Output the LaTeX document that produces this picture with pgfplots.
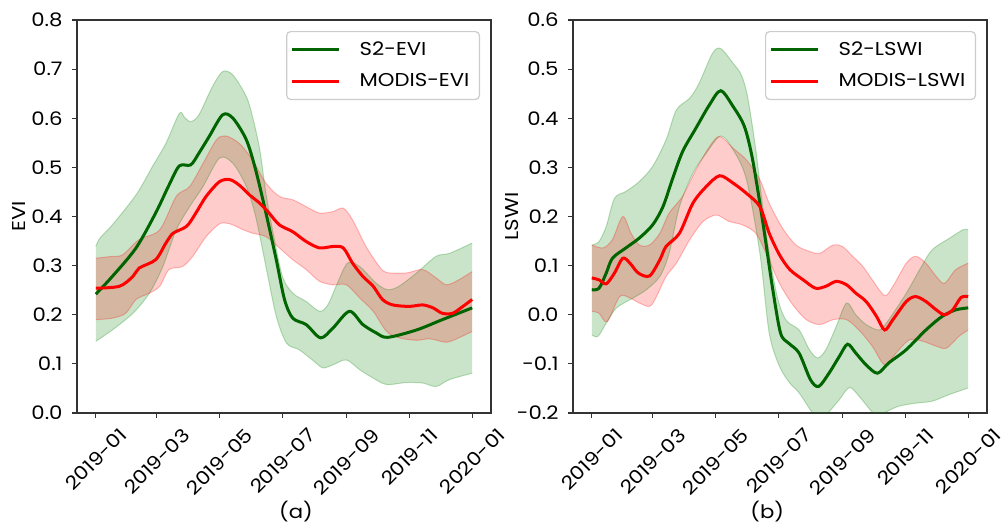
\documentclass[border=0pt]{standalone}
\usepackage{fontspec}
\setmainfont{Poppins}[FakeStretch=1.14]
\usepackage{pgfplots}
\pgfplotsset{compat=1.18}
\usepgfplotslibrary{fillbetween}
\definecolor{mgreen}{RGB}{0,128,0}
\definecolor{dgreen}{RGB}{0,100,0}
\definecolor{mred}{RGB}{255,0,0}
\definecolor{framegray}{RGB}{51,51,51}
\newcommand{\tf}{\fontsize{9.3}{11}\selectfont}
\pgfplotsset{
 myax/.style={
   scale only axis, width=207pt, height=196.5pt,
   xmin=-18.25, xmax=383.25,
   xtick={0,59,120,181,243,304,365},
   xticklabels={\rotatebox{45}{2019-01},\rotatebox{45}{2019-03},\rotatebox{45}{2019-05},\rotatebox{45}{2019-07},\rotatebox{45}{2019-09},\rotatebox{45}{2019-11},\rotatebox{45}{2020-01}},
   xticklabel style={anchor=north, yshift=-1pt},
   tick align=outside, major tick length=2.5pt,
   xtick pos=bottom, ytick pos=left,
   axis line style={framegray, line width=0.6pt},
   tick style={framegray, line width=0.6pt},
   ticklabel style={font=\tf},
   label style={font=\tf},
   /pgf/number format/assume math mode=true,
   yticklabel style={/pgf/number format/fixed, /pgf/number format/fixed zerofill, /pgf/number format/precision=1, xshift=-1.2pt},
   legend style={at={(1,1)}, anchor=north east, xshift=-5.5pt, yshift=-5.5pt, draw=black!20, line width=0.6pt, rounded corners=2pt, font=\tf, row sep=3.5pt, inner xsep=2pt, inner ysep=3pt, nodes={inner xsep=3pt}},
   legend image code/.code={\draw[##1] (0pt,0pt) -- (23.5pt,0pt); \path (30pt,0pt);},
   legend cell align=left,
   band/.style={draw=##1, draw opacity=0.25, line width=0.5pt, smooth, tension=0.5, forget plot},
   mean/.style={draw=##1, line width=1.5pt, smooth, tension=0.5},
 }
}
\begin{document}
\begin{tikzpicture}
% ---------------- (a) EVI ----------------
\begin{axis}[myax, ymin=0, ymax=0.8, ytick={0,0.1,...,0.8},
  ylabel={EVI}, ylabel style={at={(axis description cs:-0.14,0.5)}, anchor=center},
  xlabel={(a)}, xlabel style={at={(axis description cs:0.529,-0.252)}, anchor=center}]
\addplot[band=mgreen, name path=s2u] coordinates {(0,0.339)(4,0.356)(16,0.383)(39,0.444)(55,0.502)(68,0.549)(81,0.610)(86,0.602)(92,0.593)(100,0.607)(113,0.664)(123,0.695)(133,0.688)(146,0.644)(152,0.603)(159,0.536)(165,0.447)(172,0.366)(181,0.278)(191,0.244)(204,0.227)(217,0.207)(225,0.220)(233,0.258)(244,0.305)(256,0.298)(272,0.264)(283,0.251)(294,0.258)(311,0.285)(330,0.319)(343,0.325)(365,0.346)};
\addplot[band=mgreen, name path=s2l] coordinates {(0,0.146)(16,0.169)(36,0.203)(52,0.244)(65,0.298)(78,0.373)(91,0.420)(104,0.461)(120,0.519)(133,0.508)(146,0.461)(155,0.400)(165,0.298)(175,0.197)(185,0.142)(197,0.129)(210,0.108)(220,0.092)(230,0.098)(243,0.108)(256,0.088)(269,0.071)(282,0.058)(301,0.062)(317,0.061)(330,0.054)(343,0.068)(365,0.081)};
\addplot[fill=mgreen, fill opacity=0.21, draw=none, forget plot] fill between[of=s2u and s2l];
\addplot[band=mred, name path=mou] coordinates {(0,0.315)(16,0.319)(26,0.322)(42,0.353)(62,0.373)(78,0.441)(91,0.461)(104,0.508)(117,0.556)(126,0.564)(139,0.549)(152,0.515)(165,0.468)(178,0.441)(191,0.434)(204,0.420)(217,0.407)(230,0.410)(240,0.417)(249,0.393)(262,0.339)(275,0.298)(282,0.286)(301,0.285)(317,0.292)(330,0.275)(340,0.261)(352,0.271)(365,0.288)};
\addplot[band=mred, name path=mol] coordinates {(0,0.190)(16,0.193)(29,0.203)(39,0.231)(52,0.244)(62,0.258)(71,0.292)(84,0.298)(94,0.319)(107,0.359)(120,0.385)(130,0.385)(143,0.373)(152,0.366)(165,0.359)(178,0.336)(191,0.312)(204,0.292)(217,0.268)(230,0.261)(243,0.261)(256,0.234)(269,0.207)(282,0.166)(294,0.153)(311,0.148)(324,0.151)(340,0.144)(352,0.153)(365,0.166)};
\addplot[fill=mred, fill opacity=0.2, draw=none, forget plot] fill between[of=mou and mol];
\addplot[mean=dgreen] coordinates {(0,0.242)(16,0.278)(39,0.336)(58,0.407)(71,0.464)(81,0.503)(92,0.505)(100,0.529)(110,0.563)(123,0.607)(133,0.600)(146,0.556)(155,0.495)(165,0.407)(175,0.312)(183,0.231)(191,0.193)(204,0.180)(218,0.153)(230,0.173)(246,0.207)(259,0.180)(272,0.163)(283,0.154)(311,0.169)(336,0.190)(365,0.214)};
\addlegendentry{S2-EVI}
\addplot[mean=mred] coordinates {(0,0.254)(23,0.258)(36,0.278)(42,0.295)(58,0.312)(68,0.346)(75,0.366)(88,0.380)(97,0.407)(107,0.441)(120,0.471)(130,0.475)(139,0.464)(149,0.444)(159,0.427)(168,0.407)(178,0.383)(191,0.369)(204,0.349)(217,0.336)(230,0.339)(240,0.336)(249,0.305)(259,0.278)(269,0.258)(278,0.231)(288,0.220)(304,0.217)(317,0.220)(327,0.214)(336,0.203)(346,0.203)(356,0.217)(365,0.231)};
\addlegendentry{MODIS-EVI}
\end{axis}
% ---------------- (b) LSWI ----------------
\begin{axis}[myax, at={(248pt,0pt)}, ymin=-0.2, ymax=0.6, ytick={-0.2,-0.1,...,0.6},
  ylabel={LSWI}, ylabel style={at={(axis description cs:-0.147,0.5)}, anchor=center},
  xlabel={(b)}, xlabel style={at={(axis description cs:0.469,-0.252)}, anchor=center}]
\addplot[band=mgreen, name path=s2u] coordinates {(0,0.142)(7,0.149)(14,0.180)(22,0.237)(33,0.251)(46,0.271)(59,0.302)(72,0.356)(82,0.417)(95,0.441)(104,0.471)(117,0.532)(125,0.542)(137,0.512)(145,0.488)(151,0.444)(159,0.336)(169,0.166)(179,0.044)(188,-0.010)(201,-0.031)(211,-0.071)(219,-0.088)(227,-0.071)(237,-0.024)(247,0.024)(256,0.000)(266,-0.020)(279,-0.031)(288,-0.010)(305,0.044)(318,0.092)(330,0.132)(347,0.156)(360,0.173)(365,0.173)};
\addplot[band=mgreen, name path=s2l] coordinates {(0,-0.041)(6,-0.044)(14,-0.017)(24,0.014)(40,0.034)(53,0.051)(66,0.078)(75,0.125)(85,0.220)(98,0.288)(111,0.329)(125,0.364)(137,0.336)(150,0.275)(163,0.125)(172,-0.037)(182,-0.105)(192,-0.139)(201,-0.159)(214,-0.200)(221,-0.215)(229,-0.200)(240,-0.173)(250,-0.148)(260,-0.168)(272,-0.198)(279,-0.205)(286,-0.197)(298,-0.186)(314,-0.180)(330,-0.176)(346,-0.163)(365,-0.149)};
\addplot[fill=mgreen, fill opacity=0.21, draw=none, forget plot] fill between[of=s2u and s2l];
\addplot[band=mred, name path=mou] coordinates {(0,0.142)(11,0.136)(20,0.153)(30,0.200)(38,0.166)(46,0.142)(56,0.142)(66,0.166)(75,0.207)(88,0.241)(101,0.295)(114,0.342)(124,0.363)(137,0.339)(150,0.315)(163,0.275)(172,0.227)(185,0.176)(198,0.142)(211,0.129)(221,0.125)(234,0.142)(243,0.139)(253,0.119)(263,0.098)(272,0.071)(284,0.039)(292,0.058)(305,0.105)(314,0.119)(324,0.105)(334,0.078)(342,0.064)(353,0.092)(365,0.105)};
\addplot[band=mred, name path=mol] coordinates {(0,0.007)(7,0.003)(15,-0.014)(27,0.037)(37,0.034)(46,0.024)(56,0.017)(62,0.034)(72,0.078)(82,0.105)(95,0.153)(108,0.190)(121,0.203)(133,0.190)(146,0.183)(159,0.166)(169,0.125)(182,0.064)(195,0.020)(208,-0.010)(221,-0.020)(234,-0.010)(247,-0.010)(259,-0.031)(272,-0.064)(284,-0.102)(295,-0.078)(308,-0.051)(321,-0.054)(334,-0.064)(344,-0.068)(356,-0.044)(365,-0.031)};
\addplot[fill=mred, fill opacity=0.2, draw=none, forget plot] fill between[of=mou and mol];
\addplot[mean=dgreen] coordinates {(0,0.051)(7,0.054)(14,0.085)(20,0.115)(33,0.136)(46,0.156)(59,0.183)(69,0.220)(78,0.275)(88,0.332)(101,0.380)(114,0.427)(125,0.456)(137,0.424)(148,0.383)(156,0.315)(166,0.186)(175,0.058)(183,-0.037)(191,-0.058)(201,-0.078)(212,-0.132)(220,-0.146)(230,-0.119)(240,-0.085)(248,-0.060)(256,-0.078)(266,-0.102)(277,-0.119)(288,-0.098)(305,-0.071)(324,-0.031)(340,-0.003)(353,0.010)(365,0.014)};
\addlegendentry{S2-LSWI}
\addplot[mean=mred] coordinates {(0,0.075)(7,0.071)(14,0.063)(22,0.085)(30,0.115)(37,0.105)(45,0.085)(56,0.079)(66,0.112)(72,0.139)(85,0.166)(98,0.227)(111,0.261)(124,0.283)(137,0.268)(150,0.247)(163,0.220)(172,0.166)(182,0.122)(192,0.092)(205,0.071)(217,0.054)(227,0.058)(237,0.068)(247,0.061)(256,0.044)(266,0.027)(276,-0.003)(284,-0.031)(292,-0.010)(305,0.027)(314,0.037)(324,0.027)(334,0.010)(342,0.000)(350,0.010)(358,0.035)(365,0.037)};
\addlegendentry{MODIS-LSWI}
\end{axis}
\pgfresetboundingbox
\path[use as bounding box] (-38.5pt,-55.5pt) rectangle (462pt,206.5pt);
\end{tikzpicture}
\end{document}
